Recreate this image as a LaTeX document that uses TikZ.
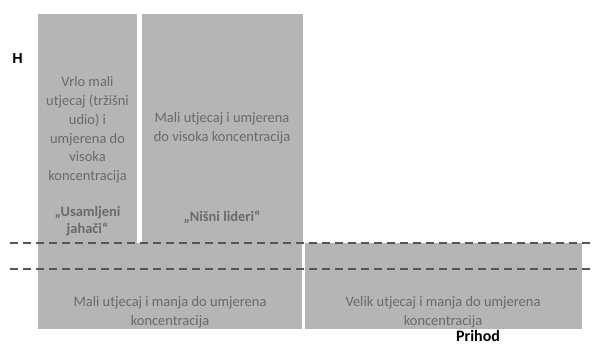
\documentclass[tikz,border=0pt]{standalone}
\usepackage{fontspec}
\setmainfont{Carlito}
\newfontfamily\osfont{Liberation Sans}
\definecolor{cellgrey}{HTML}{B5B5B5}
\definecolor{textgrey}{HTML}{6A6A6A}
\definecolor{dashgrey}{HTML}{555555}

\begin{document}
\begin{tikzpicture}[x=1bp, y=-1bp,
  cell/.style={fill=cellgrey, draw=none, inner sep=0pt, anchor=north west},
  celltext/.style={text=textgrey, align=center, inner sep=0pt,
    font=\fontsize{14.5}{18.8}\selectfont},
  tagtext/.style={celltext, font=\fontsize{14.5}{17.5}\selectfont\bfseries},
  dashline/.style={draw=dashgrey, line width=1.8bp, dash pattern=on 8bp off 5bp}
]
  \useasboundingbox (0,0) rectangle (593,345);
  % gornji red
  \node[cell, minimum width=99bp, minimum height=229bp] (samotni) at (38,14) {};
  \node[cell, minimum width=161bp, minimum height=229bp] (nisni) at (142,14) {};
  % donji red
  \node[cell, minimum width=264bp, minimum height=86bp] (mali) at (38,243) {};
  \node[cell, minimum width=277bp, minimum height=86bp] (velik) at (305,243) {};
  % isprekidane crte
  \coordinate (gl) at (10,243);
  \coordinate (gd) at (593,243);
  \coordinate (dl) at (10,269);
  \coordinate (dd) at (593,269);
  \draw[dashline] (gl) -- (gd);
  \draw[dashline] (dl) -- (dd);
  % tekstovi
  \node[celltext] (samotnitxt) at (87.5,130) {Vrlo mali\\utjecaj (tržišni\\udio) i\\umjerena do\\visoka\\koncentracija};
  \node[tagtext] (samotnitag) at (87.5,221) {„Usamljeni\\jahači“};
  \node[celltext] (nisnitxt) at (222,128) {Mali utjecaj i umjerena\\do visoka koncentracija};
  \node[tagtext] (nisnitag) at (222,217) {„Nišni lideri“};
  \node[celltext] (malitxt) at (170,312) {Mali utjecaj i manja do umjerena\\koncentracija};
  \node[celltext] (veliktxt) at (443,312) {Velik utjecaj i manja do umjerena\\koncentracija};
  % osi
  \node[font=\osfont\fontsize{14.5}{16}\selectfont\bfseries] (osH) at (17.5,58.5) {H};
  \node[inner sep=0pt, font=\fontsize{16}{18}\selectfont\bfseries] (osP) at (478,336) {Prihod};
\end{tikzpicture}
\end{document}
